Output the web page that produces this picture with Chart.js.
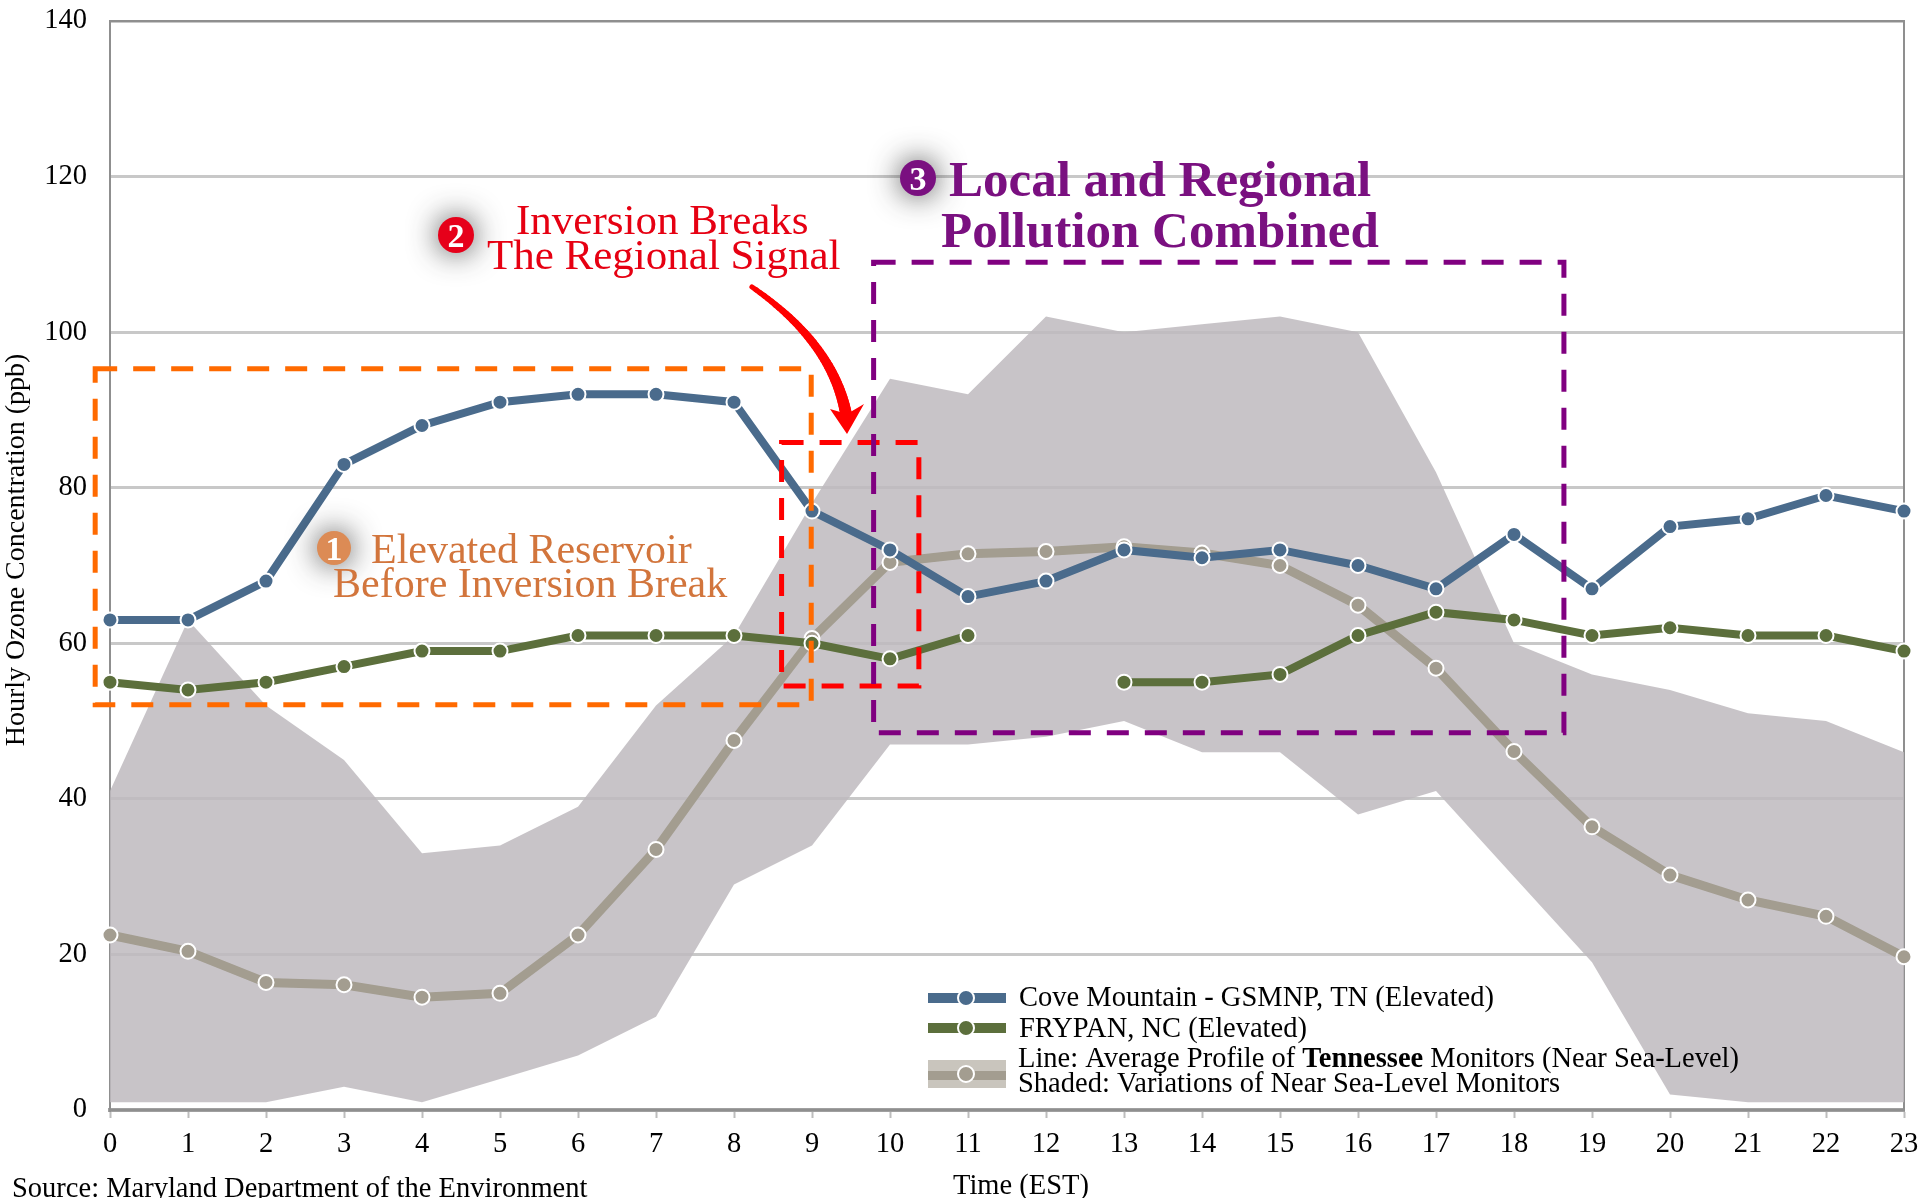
<!DOCTYPE html>
<html lang="en">
<head>
<meta charset="UTF-8">
<title>Hourly Ozone Concentration</title>
<style>
    html, body { margin: 0; padding: 0; background: #fff; overflow: hidden; }
    canvas { display: block; }
</style>
<script src="https://cdn.jsdelivr.net/npm/chart.js"></script>
</head>
<body>
<canvas id="ozoneChart" width="1920" height="1198"></canvas>
<script>
const hours = ['0','1','2','3','4','5','6','7','8','9','10','11','12','13','14','15','16','17','18','19','20','21','22','23'];
const yTicks = [0, 20, 40, 60, 80, 100, 120, 140];
const coveMountain = [63,63,68,83,88,91,92,92,91,77,72,66,68,72,71,72,70,67,74,67,75,76,79,77];
const frypan = [55,54,55,57,59,59,61,61,61,60,58,61,null,55,55,56,61,64,63,61,62,61,61,59];
const tnAverage = [22.5,20.4,16.4,16.1,14.5,15,22.5,33.5,47.5,60.6,70.4,71.5,71.8,72.4,71.6,70,64.9,56.8,46.1,36.4,30.2,27,24.9,19.7];
const bandUpper = [41,63,52,45,33,34,39,52,61,78,94,92,102,100,101,102,100,82,60,56,54,51,50,46];
const bandLower = [1,1,1,3,1,4,7,12,29,34,47,47,48,50,46,46,38,41,30,19,2,1,1,1];

const legendCove = 'Cove Mountain - GSMNP, TN (Elevated)';
const legendFrypan = 'FRYPAN, NC (Elevated)';
const legendShaded = 'Shaded: Variations of Near Sea-Level Monitors';

// dashed boxes, in axis units: x from, x to, y top, y bottom
const boxOrange = [-0.19, 8.99, 95.3, 52.1];
const boxRed = [8.61, 10.37, 85.8, 54.5];
const boxPurple = [9.79, 18.64, 109, 48.5];

const blue = '#4a6b8c';
const green = '#5c6f3c';
const taupe = '#a39d90';
const serif = '"Liberation Serif", "Times New Roman", serif';

function text(ctx, str, x, y, font, color, align) {
    ctx.font = font;
    ctx.fillStyle = color;
    ctx.textAlign = align || 'left';
    ctx.textBaseline = 'alphabetic';
    ctx.fillText(str, x, y);
}

function badge(ctx, x, y, r, color, num) {
    ctx.save();
    ctx.shadowColor = 'rgba(40,40,40,0.85)';
    ctx.shadowBlur = 30;
    ctx.fillStyle = color;
    ctx.beginPath();
    ctx.arc(x, y, r, 0, Math.PI * 2);
    ctx.fill();
    ctx.restore();
    text(ctx, num, x, y + 12, 'bold 34px ' + serif, '#fff', 'center');
}

function legendMarker(ctx, x, y, fill) {
    ctx.beginPath();
    ctx.arc(x, y, 8, 0, Math.PI * 2);
    ctx.fillStyle = fill;
    ctx.fill();
    ctx.lineWidth = 2;
    ctx.strokeStyle = '#fff';
    ctx.stroke();
}

// frame goes under the datasets
const framePlugin = {
    id: 'frame',
    beforeDatasetsDraw(chart) {
        const a = chart.chartArea;
        const ctx = chart.ctx;
        ctx.save();
        ctx.strokeStyle = '#8f8f8f';
        ctx.lineWidth = 2;
        ctx.strokeRect(a.left, a.top, a.right - a.left, a.bottom - a.top);
        ctx.restore();
    }
};

// dashed boxes, arrow, callouts, legend and outer labels
const annotationPlugin = {
    id: 'annotations',
    afterDatasetsDraw(chart) {
        const ctx = chart.ctx;
        const sx = chart.scales.x;
        const sy = chart.scales.y;
        const px = v => sx.getPixelForValue(v);
        const py = v => sy.getPixelForValue(v);

        ctx.save();
        ctx.lineWidth = 5;
        ctx.setLineDash([22, 16]);
        [[boxOrange, '#ff6a00'], [boxRed, '#ff0000'], [boxPurple, '#800080']].forEach(([b, c]) => {
            ctx.strokeStyle = c;
            ctx.strokeRect(px(b[0]), py(b[2]), px(b[1]) - px(b[0]), py(b[3]) - py(b[2]));
        });
        ctx.restore();

        // curved arrow, gets thicker towards the head
        ctx.save();
        ctx.strokeStyle = '#ff0000';
        ctx.fillStyle = '#ff0000';
        ctx.lineCap = 'round';
        const p0 = [752, 287], p1 = [836, 345], p2 = [847, 420];
        let last = p0;
        for (let i = 1; i <= 40; i++) {
            const t = i / 40;
            const q = [
                (1 - t) * (1 - t) * p0[0] + 2 * t * (1 - t) * p1[0] + t * t * p2[0],
                (1 - t) * (1 - t) * p0[1] + 2 * t * (1 - t) * p1[1] + t * t * p2[1]
            ];
            ctx.lineWidth = 5 + 7 * t;
            ctx.beginPath();
            ctx.moveTo(last[0], last[1]);
            ctx.lineTo(q[0], q[1]);
            ctx.stroke();
            last = q;
        }
        ctx.beginPath();
        ctx.moveTo(847, 434);
        ctx.lineTo(830, 409);
        ctx.lineTo(847, 414);
        ctx.lineTo(864, 404);
        ctx.closePath();
        ctx.fill();
        ctx.restore();

        // callouts
        const orangeText = '#d2753c';
        badge(ctx, 334, 548, 17, '#dc8b55', '1');
        text(ctx, 'Elevated Reservoir', 371, 563, '42px ' + serif, orangeText);
        text(ctx, 'Before Inversion Break', 333, 597, '42px ' + serif, orangeText);

        badge(ctx, 456, 235, 18, '#e6001a', '2');
        text(ctx, 'Inversion Breaks', 516, 234, '43px ' + serif, '#e60012');
        text(ctx, 'The Regional Signal', 487, 269, '43px ' + serif, '#e60012');

        badge(ctx, 918, 178, 18, '#7a1080', '3');
        text(ctx, 'Local and Regional', 949, 196, 'bold 51px ' + serif, '#7a1080');
        text(ctx, 'Pollution Combined', 941, 247, 'bold 51px ' + serif, '#7a1080');

        // legend
        ctx.fillStyle = blue;
        ctx.fillRect(928, 993, 78, 10);
        legendMarker(ctx, 966, 998, blue);
        ctx.fillStyle = green;
        ctx.fillRect(928, 1023, 78, 10);
        legendMarker(ctx, 966, 1028, green);
        ctx.fillStyle = '#c9c5bd';
        ctx.fillRect(928, 1060, 78, 28);
        ctx.fillStyle = taupe;
        ctx.fillRect(928, 1071, 78, 9);
        legendMarker(ctx, 966, 1074, taupe);

        const lf = '28.5px ' + serif;
        text(ctx, legendCove, 1019, 1006, lf, '#000');
        text(ctx, legendFrypan, 1019, 1037, lf, '#000');
        let lx = 1018;
        text(ctx, 'Line: Average Profile of ', lx, 1067, lf, '#000');
        lx += ctx.measureText('Line: Average Profile of ').width;
        text(ctx, 'Tennessee', lx, 1067, 'bold 28.5px ' + serif, '#000');
        lx += ctx.measureText('Tennessee').width;
        text(ctx, ' Monitors (Near Sea-Level)', lx, 1067, lf, '#000');
        text(ctx, legendShaded, 1018, 1092, lf, '#000');

        // axis titles and source
        text(ctx, 'Time (EST)', 1021, 1194, '28.5px ' + serif, '#000', 'center');
        text(ctx, 'Source: Maryland Department of the Environment', 12, 1197, '28.5px ' + serif, '#000');
        ctx.save();
        ctx.translate(24, 550);
        ctx.rotate(-Math.PI / 2);
        text(ctx, 'Hourly Ozone Concentration (ppb)', 0, 0, '28px ' + serif, '#000', 'center');
        ctx.restore();
    }
};

new Chart(document.getElementById('ozoneChart'), {
    type: 'line',
    data: {
        labels: hours,
        datasets: [
            { label: 'Cove Mountain - GSMNP, TN (Elevated)', data: coveMountain, borderColor: blue, backgroundColor: blue,
              borderWidth: 8, pointRadius: 7.5, pointBorderWidth: 2, pointBorderColor: '#fff', pointBackgroundColor: blue, clip: false },
            { label: 'FRYPAN, NC (Elevated)', data: frypan, borderColor: green, backgroundColor: green,
              borderWidth: 8, pointRadius: 7.5, pointBorderWidth: 2, pointBorderColor: '#fff', pointBackgroundColor: green, clip: false, spanGaps: false },
            { label: 'Average Profile of Tennessee Monitors', data: tnAverage, borderColor: taupe, backgroundColor: taupe,
              borderWidth: 9, pointRadius: 7.5, pointBorderWidth: 2, pointBorderColor: '#fff', pointBackgroundColor: taupe, clip: false },
            { label: 'Upper', data: bandUpper, borderWidth: 0, pointRadius: 0, borderColor: 'transparent',
              backgroundColor: 'rgba(190,186,190,0.85)', fill: '+1' },
            { label: 'Lower', data: bandLower, borderWidth: 0, pointRadius: 0, borderColor: 'transparent', fill: false }
        ]
    },
    options: {
        responsive: false,
        animation: false,
        layout: { padding: { top: 21, right: 16, left: 0, bottom: 0 } },
        plugins: { legend: { display: false }, tooltip: { enabled: false } },
        elements: { line: { tension: 0 } },
        scales: {
            x: {
                // chart.js adds half a label plus tick padding as margin, drop it so the plot area is exact
                afterFit(s) { s.height = 88; s.paddingLeft = 0; s.paddingRight = 0; },
                grid: { drawOnChartArea: false, drawTicks: true, tickLength: 8, tickColor: '#bdbdbd', tickWidth: 2 },
                border: { color: '#a0a0a0', width: 4 },
                ticks: { color: '#000', font: { family: serif, size: 28.5 }, padding: 9, maxRotation: 0, autoSkip: false }
            },
            y: {
                min: 0,
                max: 140,
                afterFit(s) { s.width = 110; s.paddingTop = 0; s.paddingBottom = 0; },
                afterBuildTicks(s) { s.ticks = yTicks.map(v => ({ value: v })); },
                grid: { color: '#c8c8c8', lineWidth: 3, drawTicks: false },
                border: { color: '#8f8f8f', width: 2 },
                ticks: { color: '#000', font: { family: serif, size: 28.5 }, padding: 23 }
            }
        }
    },
    plugins: [framePlugin, annotationPlugin]
});
</script>
</body>
</html>
